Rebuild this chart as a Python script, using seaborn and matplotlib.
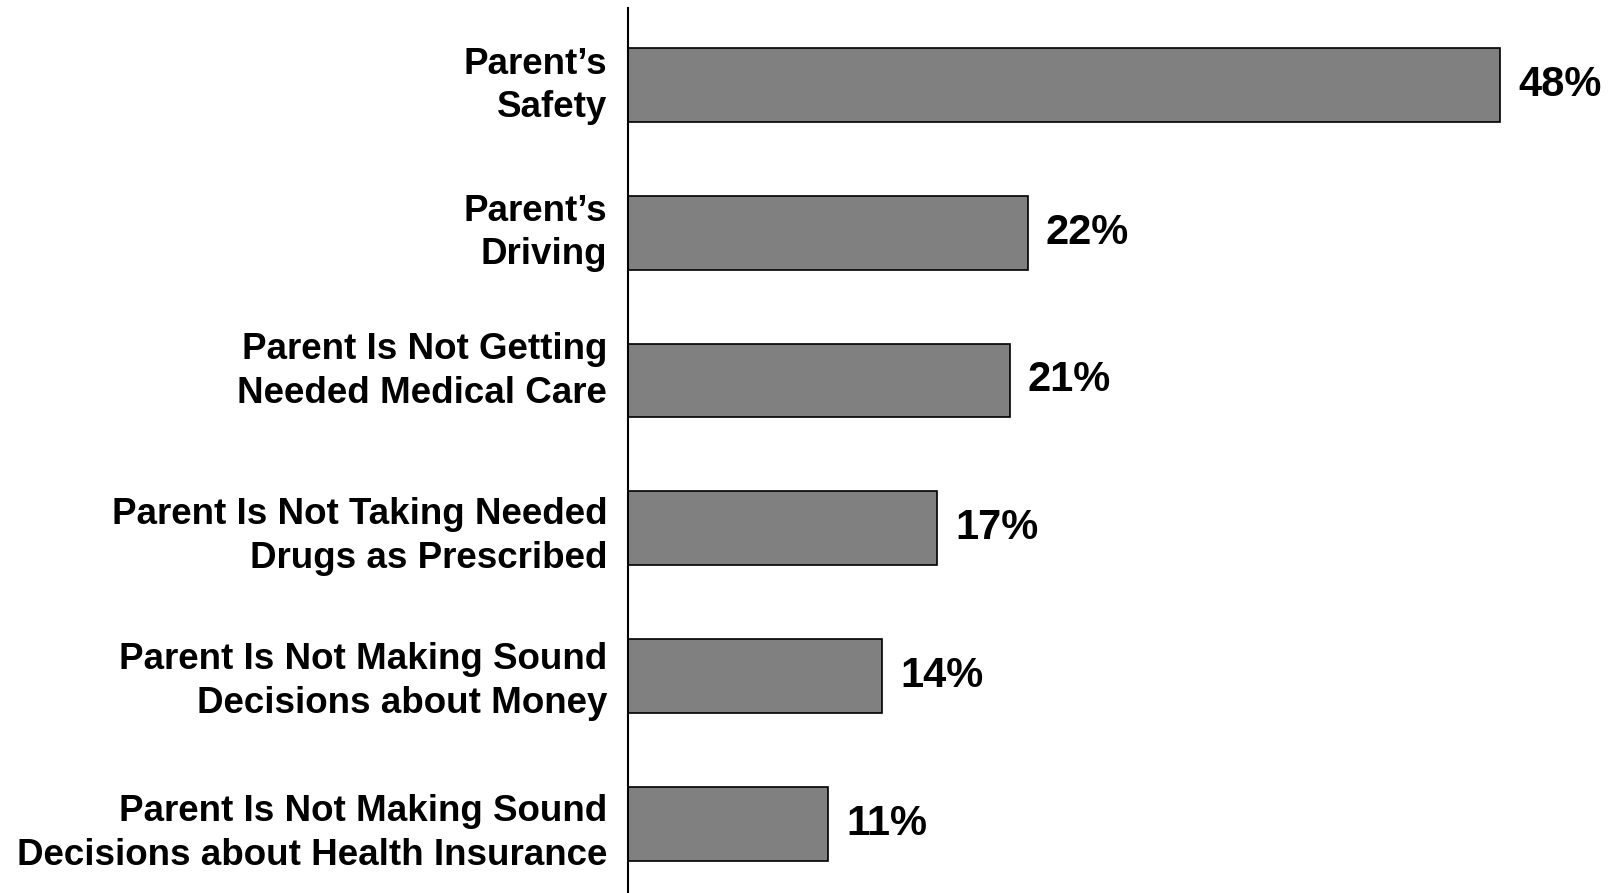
import matplotlib
matplotlib.use("Agg")
import matplotlib.pyplot as plt
import matplotlib.transforms as mtransforms
import seaborn as sns
import pandas as pd

categories = [
    "Parent\u2019s\nSafety",
    "Parent\u2019s\nDriving",
    "Parent Is Not Getting\nNeeded Medical Care",
    "Parent Is Not Taking Needed\nDrugs as Prescribed",
    "Parent Is Not Making Sound\nDecisions about Money",
    "Parent Is Not Making Sound\nDecisions about Health Insurance",
]
values = [48, 22, 21, 17, 14, 11]

# vertical nudge (pixels, upward) applied to each category label
label_lift_px = [7, 8, 17, 0, 3, -1]

sns.set_style("white")
plt.rcParams["font.family"] = ["Liberation Sans", "DejaVu Sans"]

df = pd.DataFrame({"category": categories, "value": values})

W, H = 1614, 893
fig = plt.figure(figsize=(W / 100, H / 100), dpi=100)
ax = fig.add_axes([628 / W, 0, (W - 628) / W, 885 / H])

sns.barplot(data=df, x="value", y="category", orient="h", color="#808080",
            saturation=1, edgecolor="black", linewidth=1.2, width=0.5, ax=ax)

ax.set_xlim(0, (W - 628) / 18.17)
ax.set_ylim(5.463, -0.517)
ax.set_xlabel("")
ax.set_ylabel("")
ax.set_xticks([])

for side in ("top", "right", "bottom"):
    ax.spines[side].set_visible(False)
ax.spines["left"].set_color("black")
ax.spines["left"].set_linewidth(1.5)

ax.tick_params(axis="y", length=0, pad=15)
for lab, lift in zip(ax.get_yticklabels(), label_lift_px):
    lab.set_fontsize(26.5)
    lab.set_fontweight("bold")
    lab.set_horizontalalignment("right")
    lab.set_multialignment("right")
    lab.set_linespacing(1.33)
    lab.set_color("black")
    shift = mtransforms.ScaledTranslation(0, lift / 100, fig.dpi_scale_trans)
    lab.set_transform(lab.get_transform() + shift)

for container in ax.containers:
    ax.bar_label(container, labels=[f"{v}%" for v in values], padding=13,
                 fontsize=30, fontweight="bold", color="black")

fig.savefig("out.png", dpi=100, facecolor="white")
